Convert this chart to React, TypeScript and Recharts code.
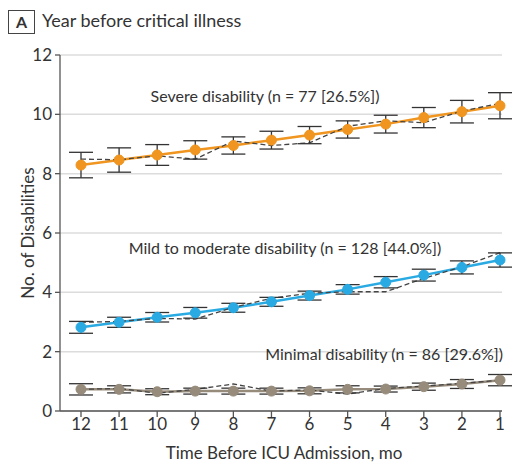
import { LineChart, Line, XAxis, YAxis, CartesianGrid, ErrorBar } from "recharts";

// months before ICU admission, plotted right-to-left toward admission
const months = [12, 11, 10, 9, 8, 7, 6, 5, 4, 3, 2, 1];
const yTicks = [0, 2, 4, 6, 8, 10, 12];

// severe disability trajectory: model estimate, 95% CI half-width, observed mean
const severeFit = [8.29, 8.46, 8.63, 8.8, 8.95, 9.13, 9.3, 9.49, 9.67, 9.89, 10.09, 10.29];
const severeErr = [0.43, 0.41, 0.35, 0.31, 0.29, 0.3, 0.29, 0.29, 0.3, 0.34, 0.38, 0.44];
const severeObs = [8.49, 8.47, 8.6, 8.49, 9.1, 8.95, 9.04, 9.6, 9.78, 9.72, 10.11, 10.37];

// mild to moderate disability
const mildFit = [2.82, 2.99, 3.16, 3.31, 3.48, 3.68, 3.89, 4.1, 4.34, 4.58, 4.84, 5.09];
const mildErr = [0.2, 0.17, 0.16, 0.18, 0.15, 0.15, 0.15, 0.16, 0.19, 0.2, 0.22, 0.24];
const mildObs = [2.99, 3.02, 3.12, 3.1, 3.49, 3.8, 3.97, 4.02, 4.02, 4.47, 4.86, 5.34];

// minimal disability
const minimalFit = [0.73, 0.73, 0.65, 0.67, 0.67, 0.67, 0.68, 0.73, 0.74, 0.82, 0.91, 1.04];
const minimalErr = [0.19, 0.12, 0.1, 0.1, 0.1, 0.1, 0.1, 0.12, 0.1, 0.12, 0.15, 0.19];
const minimalObs = [0.73, 0.76, 0.6, 0.73, 0.91, 0.67, 0.71, 0.57, 0.76, 0.84, 0.93, 1.04];

const rows = months.map((month, i) => ({
  month,
  severeFit: severeFit[i],
  severeErr: severeErr[i],
  severeObs: severeObs[i],
  mildFit: mildFit[i],
  mildErr: mildErr[i],
  mildObs: mildObs[i],
  minimalFit: minimalFit[i],
  minimalErr: minimalErr[i],
  minimalObs: minimalObs[i],
}));

const FONT = "Lato, 'Open Sans', sans-serif";
const INK = "#333";

const groups = [
  { key: "severe", color: "#F0951F" },
  { key: "mild", color: "#2AAAE2" },
  { key: "minimal", color: "#978B7B" },
];

const tickStyle = { fontSize: 17, fill: INK, fontFamily: FONT };

export default function App() {
  return (
    <div style={{ position: "absolute", left: 0, top: 0, width: 512, height: 465, background: "#fff", fontFamily: FONT, color: INK }}>
      <div
        style={{
          position: "absolute",
          left: 8,
          top: 10,
          width: 25,
          height: 22,
          border: "1.5px solid #444",
          fontWeight: 700,
          fontSize: 16,
          lineHeight: "22px",
          textAlign: "center",
        }}
      >
        A
      </div>
      <div style={{ position: "absolute", left: 42, top: 8, fontSize: 18, lineHeight: "24px", whiteSpace: "nowrap" }}>
        Year before critical illness
      </div>

      <LineChart width={512} height={465} data={rows} margin={{ top: 55, right: 10, left: 0, bottom: 0 }}>
        <CartesianGrid vertical={false} stroke="#dcdcdc" strokeWidth={1.5} />
        <XAxis
          type="number"
          dataKey="month"
          domain={[1, 12]}
          reversed
          ticks={months}
          interval={0}
          padding={{ left: 21, right: 2 }}
          height={54}
          tickSize={6}
          tickMargin={1}
          tick={tickStyle}
          axisLine={{ stroke: "#555", strokeWidth: 1.3 }}
          tickLine={{ stroke: "#555", strokeWidth: 1.3 }}
        />
        <YAxis
          type="number"
          domain={[0, 12]}
          ticks={yTicks}
          width={60}
          tickSize={5}
          tickMargin={3}
          tick={tickStyle}
          axisLine={{ stroke: "#555", strokeWidth: 1.3 }}
          tickLine={{ stroke: "#555", strokeWidth: 1.3 }}
        />
        {groups.map((g) => (
          <Line
            key={`${g.key}-fit`}
            dataKey={`${g.key}Fit`}
            type="linear"
            stroke={g.color}
            strokeWidth={2.5}
            dot={false}
            activeDot={false}
            isAnimationActive={false}
          />
        ))}
        {groups.map((g) => (
          <Line
            key={`${g.key}-obs`}
            dataKey={`${g.key}Obs`}
            type="linear"
            stroke="#444"
            strokeWidth={1.3}
            strokeDasharray="5 3"
            dot={false}
            activeDot={false}
            isAnimationActive={false}
          />
        ))}
        {groups.map((g) => (
          <Line
            key={`${g.key}-dots`}
            dataKey={`${g.key}Fit`}
            type="linear"
            stroke="none"
            dot={{ r: 5, fill: g.color, stroke: g.color, strokeWidth: 1 }}
            activeDot={false}
            isAnimationActive={false}
          >
            <ErrorBar dataKey={`${g.key}Err`} direction="y" width={12} stroke="#333" strokeWidth={1.3} />
          </Line>
        ))}
      </LineChart>

      <div style={{ position: "absolute", left: 265, top: 95, transform: "translate(-50%, -50%)", fontSize: 16, whiteSpace: "nowrap" }}>
        Severe disability (n = 77 [26.5%])
      </div>
      <div style={{ position: "absolute", left: 285, top: 247, transform: "translate(-50%, -50%)", fontSize: 16, whiteSpace: "nowrap" }}>
        Mild to moderate disability (n = 128 [44.0%])
      </div>
      <div style={{ position: "absolute", right: 9, top: 353, transform: "translateY(-50%)", fontSize: 16, whiteSpace: "nowrap" }}>
        Minimal disability (n = 86 [29.6%])
      </div>
      <div
        style={{
          position: "absolute",
          left: 27,
          top: 233,
          transform: "translate(-50%, -50%) rotate(-90deg)",
          fontSize: 17,
          whiteSpace: "nowrap",
        }}
      >
        No. of Disabilities
      </div>
      <div style={{ position: "absolute", left: 284, top: 452, transform: "translate(-50%, -50%)", fontSize: 17, whiteSpace: "nowrap" }}>
        Time Before ICU Admission, mo
      </div>
    </div>
  );
}
